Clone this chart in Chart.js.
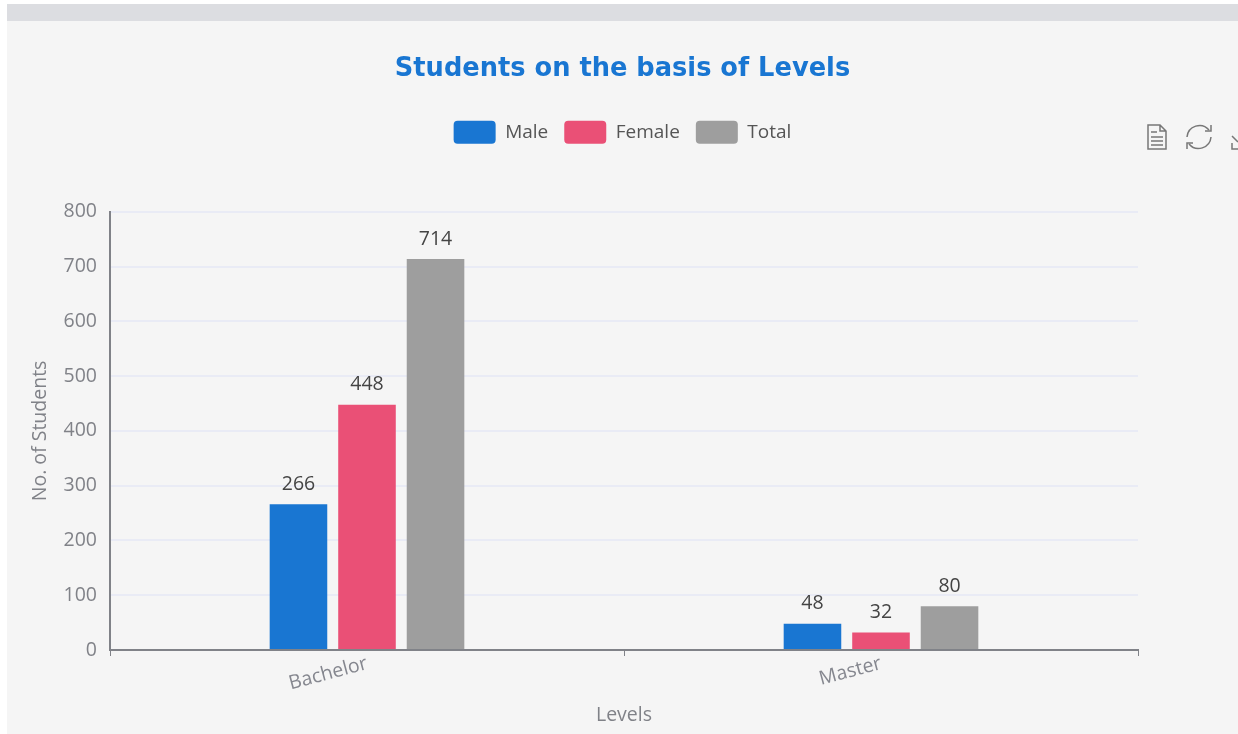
<!DOCTYPE html>
<html>
<head>
<meta charset="utf-8">
<title>Students on the basis of Levels</title>
<script src="https://cdn.jsdelivr.net/npm/chart.js@4"></script>
<style>
    html, body { margin: 0; padding: 0; background: #fff; overflow: hidden; }
    body { width: 1238px; height: 734px; position: relative; }
    .panel { position: absolute; left: 7px; top: 4px; width: 1231px; height: 730px; background: #f5f5f5; }
    .band { position: absolute; left: 7px; top: 4px; width: 1231px; height: 17px; background: #dcdde1; }
    canvas { position: absolute; left: 7px; top: 0; }
    .tools { position: absolute; left: 0; top: 0; }
</style>
</head>
<body>
<div class="panel"></div>
<div class="band"></div>
<canvas id="levelsChart" width="1231" height="734"></canvas>
<svg class="tools" width="1238" height="734" fill="none" stroke="#777" stroke-width="1.5">
    <!-- 工具栏图标 -->
    <path d="M1148 125H1160L1166 131V149H1148Z M1160 125V131H1166 M1151 132H1157 M1151 137H1163 M1151 141H1163 M1151 145H1163"/>
    <path d="M1187 137A12.5 12.5 0 0 1 1209 130 M1211 137A12.5 12.5 0 0 1 1189 144"/>
    <path d="M1205 131H1211V125 M1193 143H1187V149"/>
    <path d="M1232 136L1238 142 M1232 143V149H1238"/>
</svg>
<script>
// 图表数据
const categories = ['Bachelor', 'Master'];
const maleValues = [266, 48];
const femaleValues = [448, 32];
const totalValues = [714, 80];

const fontFamily = '"Open Sans", sans-serif';
const fontSize = 19.5;
const axisColor = '#808288';

// 柱顶数值
const valueLabels = {
    id: 'valueLabels',
    afterDatasetsDraw(chart) {
        const ctx = chart.ctx;
        ctx.save();
        ctx.font = fontSize + 'px ' + fontFamily;
        ctx.fillStyle = '#444';
        ctx.textAlign = 'center';
        ctx.textBaseline = 'middle';
        chart.data.datasets.forEach((dataset, i) => {
            chart.getDatasetMeta(i).data.forEach((bar, j) => {
                ctx.fillText(dataset.data[j], bar.x, bar.y - 20);
            });
        });
        ctx.restore();
    }
};

new Chart(document.getElementById('levelsChart'), {
    type: 'bar',
    data: {
        labels: categories,
        datasets: [
            { label: 'Male', data: maleValues, backgroundColor: '#1976d2' },
            { label: 'Female', data: femaleValues, backgroundColor: '#ea5076' },
            { label: 'Total', data: totalValues, backgroundColor: '#9e9e9e' }
        ]
    },
    options: {
        responsive: false,
        animation: false,
        categoryPercentage: 0.4,
        barPercentage: 0.84,
        layout: { padding: { top: 54 } },
        plugins: {
            title: {
                display: true,
                text: 'Students on the basis of Levels',
                color: '#1976d2',
                font: { family: '"DejaVu Sans", sans-serif', size: 25.7, weight: 'bold' },
                padding: { top: 0, bottom: 20 }
            },
            legend: {
                display: true,
                labels: {
                    boxWidth: 42,
                    boxHeight: 23,
                    useBorderRadius: true,
                    borderRadius: 4,
                    padding: 16,
                    color: '#555',
                    font: { family: fontFamily, size: 19 }
                }
            },
            tooltip: { enabled: false }
        },
        scales: {
            x: {
                afterFit(scale) { scale.height = 84; },
                grid: { offset: true, drawOnChartArea: false, drawTicks: true, tickLength: 6, tickColor: axisColor },
                border: { color: axisColor, width: 2 },
                ticks: { color: '#85878f', font: { family: fontFamily, size: fontSize }, minRotation: 15, maxRotation: 15, padding: -4 },
                title: { display: true, text: 'Levels', color: axisColor, font: { family: fontFamily, size: fontSize }, padding: { top: 0, bottom: 7 } }
            },
            y: {
                min: 0,
                max: 800,
                afterFit(scale) { scale.width = 103; },
                grid: { color: '#e9ebf5', lineWidth: 2, drawTicks: false },
                border: { color: axisColor, width: 2 },
                ticks: { stepSize: 100, color: axisColor, font: { family: fontFamily, size: fontSize }, padding: 13 },
                title: { display: true, text: 'No. of Students', color: axisColor, font: { family: fontFamily, size: fontSize }, padding: { top: 22, bottom: 0 } }
            },
            // 图例下方留白
            topGap: {
                axis: 'x',
                position: 'top',
                afterFit(scale) { scale.height = 58; },
                grid: { display: false },
                border: { display: false },
                ticks: { display: false }
            },
            // 右侧留白
            rightGap: {
                position: 'right',
                afterFit(scale) { scale.width = 100; },
                grid: { display: false },
                border: { display: false },
                ticks: { display: false }
            }
        }
    },
    plugins: [valueLabels]
});
</script>
</body>
</html>
